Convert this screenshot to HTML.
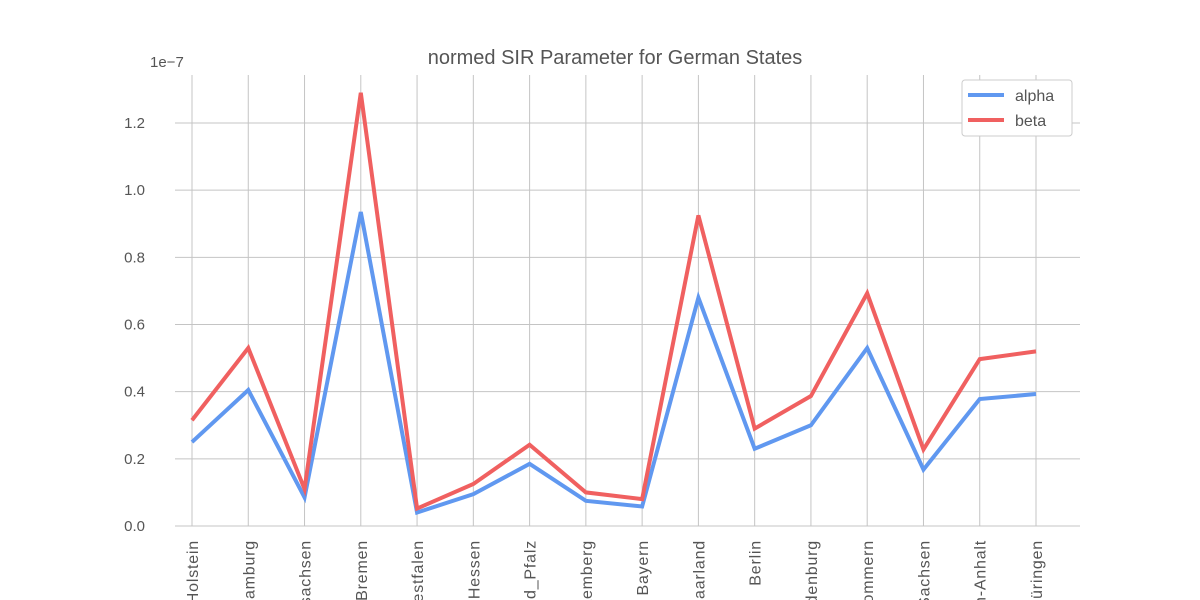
<!DOCTYPE html>
<html><head><meta charset="utf-8"><style>
html,body{margin:0;background:#fff;width:1200px;height:600px;overflow:hidden;}
svg{display:block;font-family:"Liberation Sans",sans-serif;overflow:hidden;}
</style></head><body>
<svg id="chart" width="1200" height="600">
<text x="615" y="64" text-anchor="middle" font-size="20" fill="#555">normed SIR Parameter for German States</text>
<text x="150" y="67" font-size="15" fill="#555">1e−7</text>
<g id="grid"></g><g id="ticks"></g><g id="lines"></g>
<g>
<rect x="962" y="80" width="110" height="56" rx="3" fill="#fff" stroke="#ccc"/>
<line x1="968" y1="95" x2="1004" y2="95" stroke="#6098f0" stroke-width="4"/>
<text x="1015" y="101" font-size="16" fill="#555">alpha</text>
<line x1="968" y1="120" x2="1004" y2="120" stroke="#f06060" stroke-width="4"/>
<text x="1015" y="126" font-size="16" fill="#555">beta</text>
</g>
</svg>
<script>
const categories=["Schleswig-Holstein","Hamburg","Niedersachsen","Bremen","Nordrhein-Westfalen","Hessen","Rheinland_Pfalz","Baden-Württemberg","Bayern","Saarland","Berlin","Brandenburg","Mecklenburg-Vorpommern","Sachsen","Sachsen-Anhalt","Thüringen"];
const alpha=[0.25,0.405,0.085,0.935,0.04,0.095,0.185,0.075,0.058,0.68,0.23,0.30,0.53,0.168,0.378,0.393];
const beta=[0.315,0.53,0.11,1.29,0.052,0.125,0.242,0.1,0.08,0.925,0.29,0.387,0.693,0.228,0.497,0.52];
const yTicks=[0,0.2,0.4,0.6,0.8,1.0,1.2];
const NS="http://www.w3.org/2000/svg";
function x(i){return 192+i*(1036-192)/(categories.length-1);}
function y(v){return 526-v*(526-123)/1.2;}
function mk(t,a,p){const e=document.createElementNS(NS,t);for(const k in a)e.setAttribute(k,a[k]);p.appendChild(e);return e;}
const grid=document.getElementById('grid'),ticks=document.getElementById('ticks'),lines=document.getElementById('lines');
yTicks.forEach(v=>{
 const l=mk('line',{x1:175,x2:1080,y1:y(v),y2:y(v),stroke:'#c4c4c4','stroke-width':1},grid);
 
 
 const t=mk('text',{x:145,y:y(v)+5,'text-anchor':'end','font-size':15,fill:'#555'},ticks);
 t.textContent=v.toFixed(1);
 
 
});
categories.forEach((c,i)=>{
 const l=mk('line',{x1:x(i),x2:x(i),y1:75,y2:526,stroke:'#c4c4c4','stroke-width':1},grid);
 
 
 const t=mk('text',{x:0,y:0,'text-anchor':'end','font-size':16,'letter-spacing':'0.8',fill:'#555',transform:`translate(${x(i)+6},540) rotate(-90)`},ticks);
 t.textContent=c;
 
 
});
[[alpha,'#6098f0','alpha-line'],[beta,'#f06060','beta-line']].forEach(([d,col,n])=>{
 const p=mk('polyline',{points:d.map((v,i)=>x(i)+','+y(v)).join(' '),fill:'none',stroke:col,'stroke-width':4,'stroke-linejoin':'miter'},lines);
 
 
});
</script>
</body></html>
